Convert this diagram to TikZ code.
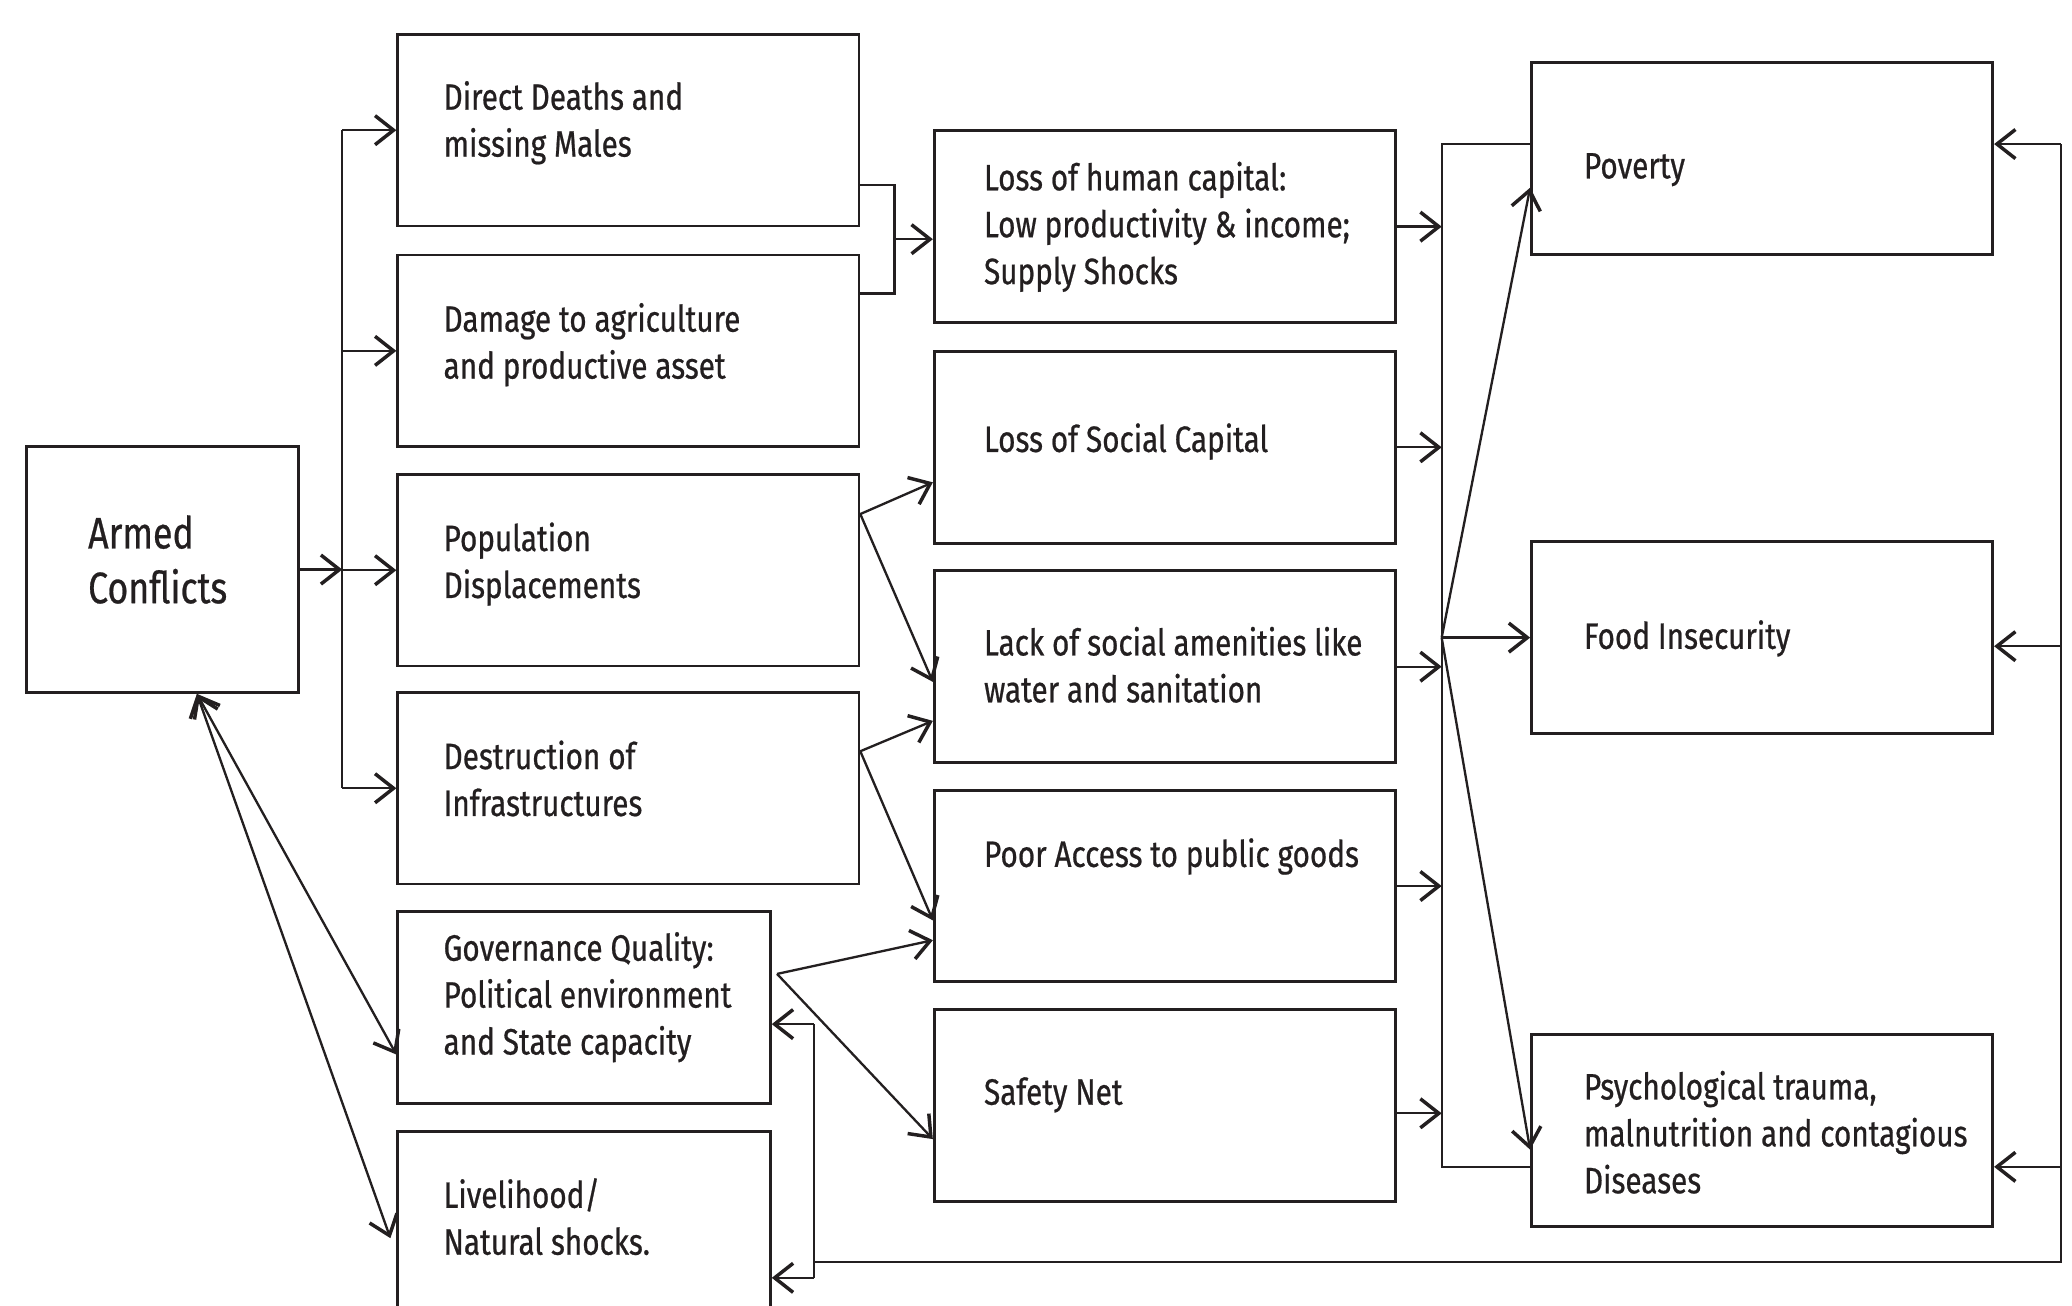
\documentclass[tikz,border=0pt]{standalone}
\usepackage{fontspec}
\usetikzlibrary{arrows.meta,calc}
\newfontfamily\bodyf[FakeStretch=0.81,FakeBold=0.6]{Fira Sans}
\definecolor{ink}{HTML}{231F20}
\newcommand{\boxtext}[1]{\vtop{\halign{##\hfil\cr#1\crcr}}}
\tikzset{
  box/.style={draw=ink, line width=0.6pt, rectangle, inner sep=0pt,
    minimum width=34.9mm, minimum height=14.5mm},
  lbl/.style={anchor=base west, inner sep=0pt, text=ink,
    font=\bodyf\fontsize{7.9pt}{10.1pt}\selectfont},
  biglbl/.style={anchor=base west, inner sep=0pt, text=ink,
    font=\bodyf\fontsize{9.5pt}{11.8pt}\selectfont},
  ln/.style={line width=0.5pt, draw=ink},
  arr/.style={ln, -{Straight Barb[length=1.4mm,width=2.2mm,line width=0.75pt]}},
  arrb/.style={ln, {Straight Barb[length=1.4mm,width=2.2mm,line width=0.75pt]}-{Straight Barb[length=1.4mm,width=2.2mm,line width=0.75pt]}}
}
\begin{document}
\begin{tikzpicture}[x=0.1mm,y=-0.1mm]
\useasboundingbox (0,0) rectangle (1568,988);
\fill[white] (0,0) rectangle (1568,988);
\clip (0,0) rectangle (1568,988);

% boxes
\node[box, minimum width=20.6mm, minimum height=18.6mm] (A) at (123,431) {};
\node[box] (L1) at (475.5,98.5) {};
\node[box] (L2) at (475.5,265.5) {};
\node[box] (L3) at (475.5,431.5) {};
\node[box] (L4) at (475.5,596.5) {};
\node[box, minimum width=28.2mm] (G) at (442,762.5) {};
\node[box, minimum width=28.2mm] (V) at (442,928.5) {};
\node[box] (M1) at (881.5,171.5) {};
\node[box] (M2) at (881.5,338.5) {};
\node[box] (M3) at (881.5,504.5) {};
\node[box] (M4) at (881.5,670.5) {};
\node[box] (M5) at (881.5,836.5) {};
\node[box] (R1) at (1333.5,120) {};
\node[box] (R2) at (1333.5,482.5) {};
\node[box] (R3) at (1333.5,855.5) {};

% texts
\node[biglbl] (tA) at (66,415) {\boxtext{Armed\cr Conflicts}};
\node[lbl] (tL1) at (335,83) {\boxtext{Direct Deaths and\cr missing Males}};
\node[lbl] (tL2) at (335,251) {\boxtext{Damage to agriculture\cr and productive asset}};
\node[lbl] (tL3) at (335,417) {\boxtext{Population\cr Displacements}};
\node[lbl] (tL4) at (335,582) {\boxtext{Destruction of\cr Infrastructures}};
\node[lbl] (tG) at (335,727) {\boxtext{Governance Quality:\cr Political environment\cr and State capacity}};
\node[lbl] (tV) at (335,914) {\boxtext{Livelihood/\cr Natural shocks.}};
\node[lbl] (tM1) at (744,144) {\boxtext{Loss of human capital:\cr Low productivity \& income;\cr Supply Shocks}};
\node[lbl] (tM2) at (744,342) {Loss of Social Capital};
\node[lbl] (tM3) at (744,496) {\boxtext{Lack of social amenities like\cr water and sanitation}};
\node[lbl] (tM4) at (744,656) {Poor Access to public goods};
\node[lbl] (tM5) at (744,836) {Safety Net};
\node[lbl] (tR1) at (1198,135) {Poverty};
\node[lbl] (tR2) at (1198,491) {Food Insecurity};
\node[lbl] (tR3) at (1198,832) {\boxtext{Psychological trauma,\cr malnutrition and contagious\cr Diseases}};

% left bus
\coordinate (bl) at (259,0);
\draw[arr] (A.east) -- (A.east -| bl);
\draw[ln] (bl |- L1.west) -- (bl |- L4.west);
\foreach \n in {L1,L2,L3,L4} \draw[arr] (bl |- \n.west) -- (\n.west);

% bracket to M1
\coordinate (br1) at (677,140);
\coordinate (br2) at (677,222);
\coordinate (brm) at (677,181);
\draw[ln] (L1.east |- br1) -- (br1) -- (br2) -- (L2.east |- br2);
\draw[arr] (brm) -- (M1.west |- brm);

% population, destruction, governance fans
\coordinate (p0) at ($(L3.east)+(0,-42.5)$);
\draw[arr] (p0) -- ($(M2.west)+(0,26.5)$);
\draw[arr] (p0) -- ($(M3.west)+(0,11.5)$);
\coordinate (d0) at ($(L4.east)+(0,-28)$);
\draw[arr] (d0) -- ($(M3.west)+(0,41)$);
\draw[arr] (d0) -- ($(M4.west)+(0,26)$);
\coordinate (g0) at ($(G.east)+(4,-25.5)$);
\draw[arr] (g0) -- ($(M4.west)+(0,41)$);
\draw[arr] (g0) -- ($(M5.west)+(0,25.5)$);

% right bus
\coordinate (br) at (1091,0);
\foreach \n in {M1,M2,M3,M4} \draw[arr] (\n.east) -- (\n.east -| br);
\coordinate (m5o) at ($(M5.east)+(0,6)$);
\draw[arr] (m5o) -- (m5o -| br);
\coordinate (rt) at ($(R1.west)+(0,-11)$);
\coordinate (rb) at ($(R3.west)+(0,27.5)$);
\draw[ln] (rt) -- (rt -| br) -- (rb -| br) -- (rb);
\coordinate (hub) at (br |- R2.west);
\draw[arr] (hub) -- (R2.west);
\draw[arr] (hub) -- ($(R1.west)+(0,22)$);
\draw[arr] (hub) -- ($(R3.west)+(0,14.5)$);

% feedback loop
\coordinate (fr) at (1559.5,0);
\coordinate (r2f) at ($(R2.east)+(0,6.5)$);
\coordinate (fb) at (615,955);
\draw[arr] (fr |- rt) -- (R1.east |- rt);
\draw[arr] (fr |- r2f) -- (r2f);
\draw[arr] (fr |- rb) -- (R3.east |- rb);
\draw[ln] (fr |- rt) -- (fr |- fb) -- (fb);
\coordinate (g1) at ($(G.east)+(32,12.5)$);
\coordinate (v1) at ($(V.east)+(32,38.5)$);
\draw[ln] (g1) -- (v1);
\draw[arr] (g1) -- (g1 -| G.east);
\draw[arr] (v1) -- (v1 -| V.east);

% armed conflicts links
\coordinate (a0) at ($(A.south)+(26,0)$);
\draw[arrb] (a0) -- ($(G.west)+(0,35.5)$);
\draw[arrb] (a0) -- ($(V.west)+(-4.5,8.5)$);
\end{tikzpicture}
\end{document}
